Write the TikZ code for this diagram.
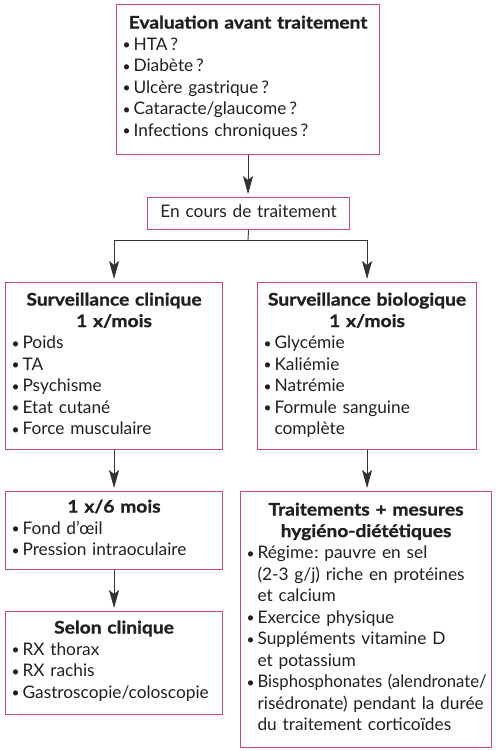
\documentclass[tikz,border=0pt]{standalone}
\usepackage{fontspec}
\setmainfont{Lato}[BoldFeatures={FakeStretch=1.11,FakeBold=1.2}]
\usetikzlibrary{arrows.meta}
\definecolor{bord}{RGB}{200,75,105}
\definecolor{txt}{RGB}{35,31,32}
\definecolor{lncol}{RGB}{50,50,50}
\setlength{\parindent}{0pt}
\frenchspacing
\newcommand{\tst}[1]{\rule{0pt}{#1pt}}
\newcommand{\bst}[1]{\rule[-#1pt]{0pt}{#1pt}}
\newcommand{\btitle}[1]{{\centering\bfseries #1\par}}
\newcommand{\itm}[1]{{\leftskip=17pt\rightskip=0pt plus 1fil\noindent\llap{\makebox[11pt][l]{\raisebox{0.3pt}{\scalebox{0.8}{•}}}}#1\par}}
\newcommand{\sq}[1]{\sbox0{#1}\ifdim\wd0>229pt \resizebox{229pt}{\ht0}{#1}\else\usebox0\fi}
\begin{document}
\begin{tikzpicture}[x=1pt,y=-1pt,
  box/.style={draw=bord, line width=1.1pt, inner sep=0pt, anchor=north west,
    font=\fontsize{17.3}{21.5}\selectfont\color{txt}\frenchspacing},
  link/.style={draw=lncol, line width=0.9pt},
  arr/.style={link, -{Stealth[length=18pt,width=10pt,inset=4pt]}, shorten >=3pt}]
\useasboundingbox (0,0) rectangle (495,751);

\node[box, text width=263pt] (eval) at (116,4) {%
\btitle{\tst{24}Evaluation avant traitement}
\itm{HTA\,?}
\itm{Diabète\,?}
\itm{Ulcère gastrique\,?}
\itm{Cataracte/glaucome\,?}
\itm{Infections chroniques\,?\bst{18.5}}};

\node[box, text width=202pt] (encours) at (147,197) {%
{\centering\tst{20}En cours de traitement\bst{12}\par}};

\node[box, text width=217pt] (clin) at (5,282) {%
\btitle{\tst{23}Surveillance clinique}
\btitle{1 x/mois}
\itm{Poids}
\itm{TA}
\itm{Psychisme}
\itm{Etat cutané}
\itm{Force musculaire\bst{15}}};

\node[box, text width=219pt] (bio) at (257,282) {%
\btitle{\tst{23}Surveillance biologique}
\btitle{1 x/mois}
\itm{Glycémie}
\itm{Kaliémie}
\itm{Natrémie}
\itm{Formule sanguine\\complète\bst{15}}};

\node[box, text width=217pt] (six) at (5,491) {%
\btitle{\tst{21}1 x/6 mois}
\itm{Fond d’œil}
\itm{Pression intraoculaire\bst{14}}};

\node[box, text width=217pt] (selon) at (5,611) {%
\btitle{\tst{22}Selon clinique}
\itm{RX thorax}
\itm{RX rachis}
\itm{Gastroscopie/coloscopie\bst{16}}};

\node[box, text width=251pt] (trait) at (240,491) {%
\btitle{\tst{24}Traitements + mesures}
\btitle{hygiéno-diététiques}
\itm{Régime\kern0.8pt: pauvre en sel\\(2-3 g/j) riche en protéines\\et calcium}
\itm{Exercice physique}
\itm{Suppléments vitamine D\\et potassium}
\itm{\sq{Bisphosphonates (alendronate/}\\\sq{risédronate) pendant la durée}\\du traitement corticoïdes\bst{17}}};

\coordinate (j) at (248,240);
\draw[arr] (eval.south) -- (eval.south |- encours.north);
\draw[link] (encours.south) -- (j);
\draw[arr] (j) -| (clin.north);
\draw[arr] (j) -| (bio.north);
\draw[arr] (clin.south) -- (six.north);
\draw[arr] (six.south) -- (selon.north);
\draw[arr] (bio.south) -- (bio.south |- trait.north);
\end{tikzpicture}
\end{document}
